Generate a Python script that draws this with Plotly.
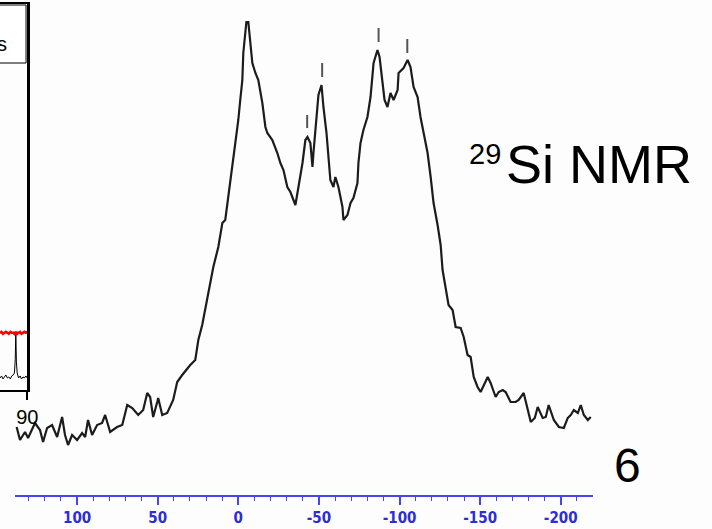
import plotly.graph_objects as go

# ---------------- main 29Si NMR spectrum ----------------
ppm = [137.5, 135.4, 132.3, 130.4, 126.1, 123.0, 121.1, 118.6, 115.5, 112.4, 109.3, 107.5,
       105.6, 103.1, 100.0, 96.9, 95.0, 93.2, 90.7, 87.6, 84.5, 82.6, 79.5, 75.2, 72.0,
       68.9, 65.8, 62.1, 59.0, 56.5, 54.7, 52.8, 50.3, 49.7, 47.2, 44.1, 40.4, 37.9, 34.8,
       29.8, 26.7, 24.8, 22.4, 20.5, 18.6, 15.5, 12.4, 9.9, 8.1, 6.2, 3.7, 1.9, 0.0, -1.2,
       -2.5, -3.1, -4.3, -5.0, -6.2, -7.5, -8.7, -10.6, -12.4, -14.9, -16.8, -18.0, -21.1,
       -24.2, -26.1, -28.0, -30.4, -32.3, -35.4, -37.3, -39.8, -41.6, -42.9, -44.7, -46.0,
       -46.6, -47.8, -49.7, -51.6, -52.8, -54.7, -55.9, -57.1, -59.0, -60.2, -62.1, -64.6,
       -65.2, -67.7, -69.6, -71.4, -73.9, -74.5, -75.8, -77.6, -80.1, -82.0, -83.9, -86.3,
       -87.6, -89.4, -90.7, -92.5, -94.4, -96.3, -98.8, -99.4, -102.5, -105.0, -106.8,
       -108.7, -111.2, -113.0, -114.9, -117.4, -119.3, -121.1, -123.6, -125.5, -126.7,
       -128.6, -130.4, -132.9, -134.8, -137.9, -139.8, -142.2, -144.1, -146.0, -148.4,
       -150.3, -152.2, -154.7, -156.5, -159.6, -161.5, -164.0, -165.8, -168.9, -172.0,
       -173.9, -177.0, -178.9, -181.4, -183.9, -185.7, -188.8, -190.7, -192.5, -195.7,
       -198.8, -201.9, -204.3, -206.2, -208.1, -210.6, -212.4, -214.3, -216.8, -218.6]
intensity = [68, 55, 63, 57, 72, 65, 53, 67, 70, 58, 78, 60,
             50, 60, 55, 62, 58, 75, 60, 70, 72, 80, 63, 68, 70,
             90, 87, 80, 85, 102, 98, 78, 93, 97, 80, 82, 95, 113, 120,
             130, 135, 155, 170, 185, 200, 228, 248, 272, 275, 298, 328, 352, 375, 395,
             415, 442, 462, 473, 473, 455, 432, 422, 415, 392, 368, 362, 355,
             342, 332, 325, 308, 303, 290, 308, 332, 355, 358, 352, 328,
             342, 362, 400, 410, 388, 362, 335, 315, 308, 318, 308, 288,
             275, 280, 292, 297, 312, 332, 352, 365, 378, 398, 432, 445,
             438, 415, 395, 388, 402, 395, 405, 422, 427, 435, 428,
             408, 398, 378, 362, 342, 318, 292, 270, 250, 225,
             208, 190, 185, 168, 167, 158, 140, 138, 118, 108,
             103, 110, 118, 112, 98, 103, 105, 103, 93, 93,
             95, 102, 88, 73, 77, 88, 77, 78, 90, 75,
             68, 67, 77, 80, 85, 82, 90, 80, 75, 78]

# peak marker ticks
mark_ppm = [-42.7, -52.0, -87.0, -104.8]
mark_low = [367, 418, 453, 442]
mark_high = [380, 432, 467, 456]

x_tickvals = [100, 50, 0, -50, -100, -150, -200]
x_ticktext = ["100", "50", "0", "-50", "-100", "-150", "-200"]

# ---------------- partial inset (left) ----------------
inset_x = [76.0, 76.8, 77.5, 78.3, 79.0, 79.8, 80.5, 81.3, 82.0, 82.8, 83.4, 83.8, 84.1,
           84.4, 84.8, 85.5, 86.3, 87.0, 87.8, 88.5, 89.3, 90.0]
inset_black = [12, 14, 11, 13, 15, 12, 13, 11, 14, 15, 17, 30, 57, 28, 17, 12, 14, 11, 13,
               12, 14, 12]
inset_red = [57, 58, 56, 57, 58, 57, 56, 58, 57, 57, 56, 58, 57, 58, 56, 57, 58, 56, 57, 58,
             57, 58]

W, H = 712, 529
SX = 712 / 700.0          # horizontal compensation observed in the renderer
BLUE_LINE = "rgb(70,70,240)"
BLUE_TEXT = "rgb(45,45,215)"


def px(x):
    return min(x * SX / W, 1.0)


fig = go.Figure()

fig.add_trace(go.Scatter(x=ppm, y=intensity, mode="lines",
                         line=dict(color="#1c1c1c", width=2.2), xaxis="x", yaxis="y",
                         showlegend=False, hoverinfo="skip"))

mx, my = [], []
for p, lo, hi in zip(mark_ppm, mark_low, mark_high):
    mx += [p, p, None]
    my += [lo, hi, None]
fig.add_trace(go.Scatter(x=mx, y=my, mode="lines", line=dict(color="#555555", width=2),
                         xaxis="x", yaxis="y", showlegend=False, hoverinfo="skip"))

fig.add_trace(go.Scatter(x=inset_x, y=inset_black, mode="lines",
                         line=dict(color="black", width=1), xaxis="x2", yaxis="y2",
                         showlegend=False, hoverinfo="skip"))
fig.add_trace(go.Scatter(x=inset_x, y=inset_red, mode="lines",
                         line=dict(color="red", width=2.5), xaxis="x2", yaxis="y2",
                         showlegend=False, hoverinfo="skip"))

fig.update_layout(
    width=W, height=H, autosize=False,
    margin=dict(l=0, r=0, t=0, b=0),
    paper_bgcolor="#fdfdfd", plot_bgcolor="rgba(0,0,0,0)",
    xaxis=dict(domain=[px(15), px(592)], range=[138.5, -219.9], anchor="y",
               showgrid=False, zeroline=False,
               showline=True, linecolor=BLUE_LINE, linewidth=2,
               tickmode="array", tickvals=x_tickvals, ticktext=x_ticktext,
               ticks="outside", ticklen=8, tickwidth=1.5, tickcolor=BLUE_LINE,
               tickfont=dict(family="Liberation Sans Narrow, DejaVu Sans Condensed, Arial Narrow, sans-serif",
                             size=15, color=BLUE_TEXT, weight="bold"),
               minor=dict(dtick=10, tick0=0, ticks="outside", ticklen=4,
                          tickwidth=1.2, tickcolor=BLUE_LINE, showgrid=False)),
    yaxis=dict(domain=[(H - 495) / H, 1], range=[0, 495], anchor="x",
               visible=False, showgrid=False, zeroline=False),
    xaxis2=dict(domain=[0, px(27.3)], range=[76, 90], anchor="y2",
                showgrid=False, zeroline=False, showline=True, mirror=True,
                linecolor="black", linewidth=1.5,
                tickmode="array", tickvals=[90], ticktext=["90"],
                ticks="outside", ticklen=8, tickwidth=1.5, tickcolor="black",
                tickfont=dict(family="Liberation Sans, Arial, sans-serif", size=20,
                              color="black")),
    yaxis2=dict(domain=[(H - 390) / H, (H - 4) / H], range=[0, 385], anchor="x2",
                side="right", showgrid=False, zeroline=False, showline=True,
                linecolor="black", linewidth=2.5, showticklabels=False, ticks=""),
)

# legend box of the inset (cropped)
fig.add_shape(type="rect", xref="paper", yref="paper",
              x0=-0.01, x1=px(26), y0=(H - 63) / H, y1=(H - 5) / H,
              line=dict(color="black", width=1), fillcolor="white")
fig.add_annotation(text="s", xref="paper", yref="paper", x=px(9), y=(H - 44) / H,
                   xanchor="right", yanchor="middle", showarrow=False,
                   font=dict(family="Liberation Sans, Arial, sans-serif", size=20,
                             color="black"))

fig.add_annotation(text="29", xref="paper", yref="paper", x=px(466), y=(H - 154) / H,
                   xanchor="left", yanchor="middle", showarrow=False,
                   font=dict(family="Liberation Sans, Arial, sans-serif", size=29,
                             color="black"))
fig.add_annotation(text="Si NMR", xref="paper", yref="paper", x=px(503), y=(H - 164) / H,
                   xanchor="left", yanchor="middle", showarrow=False,
                   font=dict(family="Liberation Sans, Arial, sans-serif", size=54,
                             color="black"))
fig.add_annotation(text="6", xref="paper", yref="paper", x=px(627), y=(H - 465) / H,
                   xanchor="center", yanchor="middle", showarrow=False,
                   font=dict(family="Liberation Sans, Arial, sans-serif", size=48,
                             color="black"))

post = """
var s = document.createElement('style');
s.textContent = 'html,body{margin:0;padding:0;overflow:hidden;}';
document.head.appendChild(s);
"""

fig.write_html("out.html",
               config={"displayModeBar": False, "responsive": False},
               post_script=post)
